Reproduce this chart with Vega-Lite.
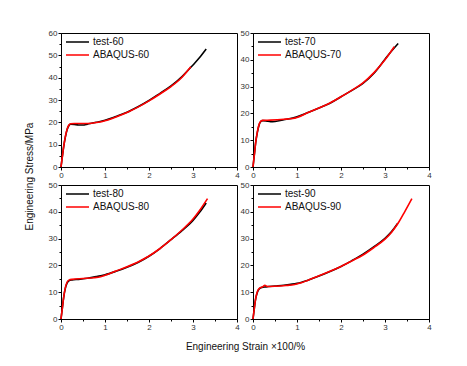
{
  "$schema": "https://vega.github.io/schema/vega-lite/v6.json",
  "background": "white",
  "padding": {"left": 23, "top": 28, "right": 5, "bottom": 5},
  "datasets": {
    "d": [
      {"p":"60","s":"test-60","x":0,"y":0},{"p":"60","s":"test-60","x":0.03,"y":4.5},{"p":"60","s":"test-60","x":0.06,"y":9},{"p":"60","s":"test-60","x":0.1,"y":13.5},{"p":"60","s":"test-60","x":0.14,"y":16.8},{"p":"60","s":"test-60","x":0.18,"y":18.6},{"p":"60","s":"test-60","x":0.22,"y":19.2},{"p":"60","s":"test-60","x":0.3,"y":19.1},{"p":"60","s":"test-60","x":0.4,"y":18.8},{"p":"60","s":"test-60","x":0.5,"y":18.8},{"p":"60","s":"test-60","x":0.6,"y":19.2},{"p":"60","s":"test-60","x":0.8,"y":20},{"p":"60","s":"test-60","x":1.0,"y":20.9},{"p":"60","s":"test-60","x":1.25,"y":22.6},{"p":"60","s":"test-60","x":1.5,"y":24.5},{"p":"60","s":"test-60","x":1.75,"y":27},{"p":"60","s":"test-60","x":2.0,"y":29.8},{"p":"60","s":"test-60","x":2.25,"y":33},{"p":"60","s":"test-60","x":2.5,"y":36.3},{"p":"60","s":"test-60","x":2.75,"y":40.5},{"p":"60","s":"test-60","x":3.0,"y":45.7},{"p":"60","s":"test-60","x":3.15,"y":49},{"p":"60","s":"test-60","x":3.3,"y":52.8},
      {"p":"60","s":"ABAQUS-60","x":0,"y":0},{"p":"60","s":"ABAQUS-60","x":0.03,"y":4.5},{"p":"60","s":"ABAQUS-60","x":0.06,"y":9},{"p":"60","s":"ABAQUS-60","x":0.1,"y":13.7},{"p":"60","s":"ABAQUS-60","x":0.14,"y":17},{"p":"60","s":"ABAQUS-60","x":0.18,"y":18.8},{"p":"60","s":"ABAQUS-60","x":0.22,"y":19.4},{"p":"60","s":"ABAQUS-60","x":0.3,"y":19.5},{"p":"60","s":"ABAQUS-60","x":0.5,"y":19.5},{"p":"60","s":"ABAQUS-60","x":0.7,"y":19.6},{"p":"60","s":"ABAQUS-60","x":0.85,"y":20},{"p":"60","s":"ABAQUS-60","x":1.0,"y":20.7},{"p":"60","s":"ABAQUS-60","x":1.25,"y":22.4},{"p":"60","s":"ABAQUS-60","x":1.5,"y":24.4},{"p":"60","s":"ABAQUS-60","x":1.75,"y":26.8},{"p":"60","s":"ABAQUS-60","x":2.0,"y":29.6},{"p":"60","s":"ABAQUS-60","x":2.25,"y":32.7},{"p":"60","s":"ABAQUS-60","x":2.5,"y":36},{"p":"60","s":"ABAQUS-60","x":2.75,"y":40.2},{"p":"60","s":"ABAQUS-60","x":2.95,"y":44.9},
      {"p":"70","s":"test-70","x":0,"y":0},{"p":"70","s":"test-70","x":0.03,"y":4.5},{"p":"70","s":"test-70","x":0.06,"y":9},{"p":"70","s":"test-70","x":0.1,"y":13},{"p":"70","s":"test-70","x":0.14,"y":15.8},{"p":"70","s":"test-70","x":0.18,"y":17},{"p":"70","s":"test-70","x":0.22,"y":17.3},{"p":"70","s":"test-70","x":0.3,"y":17.2},{"p":"70","s":"test-70","x":0.4,"y":16.9},{"p":"70","s":"test-70","x":0.5,"y":17},{"p":"70","s":"test-70","x":0.7,"y":17.6},{"p":"70","s":"test-70","x":1.0,"y":18.7},{"p":"70","s":"test-70","x":1.25,"y":20.3},{"p":"70","s":"test-70","x":1.5,"y":22},{"p":"70","s":"test-70","x":1.75,"y":23.8},{"p":"70","s":"test-70","x":2.0,"y":26.2},{"p":"70","s":"test-70","x":2.25,"y":28.6},{"p":"70","s":"test-70","x":2.5,"y":31.2},{"p":"70","s":"test-70","x":2.75,"y":35},{"p":"70","s":"test-70","x":3.0,"y":40.2},{"p":"70","s":"test-70","x":3.15,"y":43.3},{"p":"70","s":"test-70","x":3.3,"y":46.1},
      {"p":"70","s":"ABAQUS-70","x":0,"y":0},{"p":"70","s":"ABAQUS-70","x":0.03,"y":4.5},{"p":"70","s":"ABAQUS-70","x":0.06,"y":9},{"p":"70","s":"ABAQUS-70","x":0.1,"y":13.2},{"p":"70","s":"ABAQUS-70","x":0.14,"y":16},{"p":"70","s":"ABAQUS-70","x":0.18,"y":17.1},{"p":"70","s":"ABAQUS-70","x":0.22,"y":17.4},{"p":"70","s":"ABAQUS-70","x":0.4,"y":17.5},{"p":"70","s":"ABAQUS-70","x":0.7,"y":17.8},{"p":"70","s":"ABAQUS-70","x":0.9,"y":18.1},{"p":"70","s":"ABAQUS-70","x":1.0,"y":18.5},{"p":"70","s":"ABAQUS-70","x":1.25,"y":20.3},{"p":"70","s":"ABAQUS-70","x":1.5,"y":22},{"p":"70","s":"ABAQUS-70","x":1.75,"y":23.9},{"p":"70","s":"ABAQUS-70","x":2.0,"y":26.2},{"p":"70","s":"ABAQUS-70","x":2.25,"y":28.7},{"p":"70","s":"ABAQUS-70","x":2.5,"y":31.4},{"p":"70","s":"ABAQUS-70","x":2.75,"y":35.2},{"p":"70","s":"ABAQUS-70","x":3.0,"y":40},{"p":"70","s":"ABAQUS-70","x":3.21,"y":44.9},
      {"p":"80","s":"test-80","x":0,"y":0},{"p":"80","s":"test-80","x":0.03,"y":4},{"p":"80","s":"test-80","x":0.06,"y":8},{"p":"80","s":"test-80","x":0.1,"y":11.5},{"p":"80","s":"test-80","x":0.14,"y":13.5},{"p":"80","s":"test-80","x":0.18,"y":14.3},{"p":"80","s":"test-80","x":0.25,"y":14.6},{"p":"80","s":"test-80","x":0.4,"y":14.8},{"p":"80","s":"test-80","x":0.6,"y":15.2},{"p":"80","s":"test-80","x":0.8,"y":15.8},{"p":"80","s":"test-80","x":1.0,"y":16.5},{"p":"80","s":"test-80","x":1.25,"y":17.8},{"p":"80","s":"test-80","x":1.5,"y":19.3},{"p":"80","s":"test-80","x":1.75,"y":21.1},{"p":"80","s":"test-80","x":2.0,"y":23.4},{"p":"80","s":"test-80","x":2.25,"y":26.3},{"p":"80","s":"test-80","x":2.5,"y":29.6},{"p":"80","s":"test-80","x":2.75,"y":33},{"p":"80","s":"test-80","x":3.0,"y":36.8},{"p":"80","s":"test-80","x":3.15,"y":39.8},{"p":"80","s":"test-80","x":3.3,"y":43.3},
      {"p":"80","s":"ABAQUS-80","x":0,"y":0},{"p":"80","s":"ABAQUS-80","x":0.03,"y":4},{"p":"80","s":"ABAQUS-80","x":0.06,"y":8},{"p":"80","s":"ABAQUS-80","x":0.1,"y":11.8},{"p":"80","s":"ABAQUS-80","x":0.14,"y":13.8},{"p":"80","s":"ABAQUS-80","x":0.18,"y":14.5},{"p":"80","s":"ABAQUS-80","x":0.25,"y":14.8},{"p":"80","s":"ABAQUS-80","x":0.5,"y":15.1},{"p":"80","s":"ABAQUS-80","x":0.75,"y":15.4},{"p":"80","s":"ABAQUS-80","x":0.9,"y":15.8},{"p":"80","s":"ABAQUS-80","x":1.0,"y":16.3},{"p":"80","s":"ABAQUS-80","x":1.25,"y":17.9},{"p":"80","s":"ABAQUS-80","x":1.5,"y":19.5},{"p":"80","s":"ABAQUS-80","x":1.75,"y":21.3},{"p":"80","s":"ABAQUS-80","x":2.0,"y":23.5},{"p":"80","s":"ABAQUS-80","x":2.25,"y":26.3},{"p":"80","s":"ABAQUS-80","x":2.5,"y":29.6},{"p":"80","s":"ABAQUS-80","x":2.75,"y":33.2},{"p":"80","s":"ABAQUS-80","x":3.0,"y":37.3},{"p":"80","s":"ABAQUS-80","x":3.15,"y":40.5},{"p":"80","s":"ABAQUS-80","x":3.33,"y":44.9},
      {"p":"90","s":"test-90","x":0,"y":0},{"p":"90","s":"test-90","x":0.03,"y":4},{"p":"90","s":"test-90","x":0.06,"y":7.5},{"p":"90","s":"test-90","x":0.1,"y":10},{"p":"90","s":"test-90","x":0.14,"y":11.2},{"p":"90","s":"test-90","x":0.2,"y":11.8},{"p":"90","s":"test-90","x":0.3,"y":12},{"p":"90","s":"test-90","x":0.5,"y":12.3},{"p":"90","s":"test-90","x":0.7,"y":12.6},{"p":"90","s":"test-90","x":1.0,"y":13.3},{"p":"90","s":"test-90","x":1.25,"y":14.5},{"p":"90","s":"test-90","x":1.5,"y":16},{"p":"90","s":"test-90","x":1.75,"y":17.7},{"p":"90","s":"test-90","x":2.0,"y":19.6},{"p":"90","s":"test-90","x":2.25,"y":21.8},{"p":"90","s":"test-90","x":2.5,"y":24.2},{"p":"90","s":"test-90","x":2.75,"y":27},{"p":"90","s":"test-90","x":3.0,"y":30.1},{"p":"90","s":"test-90","x":3.15,"y":32.6},{"p":"90","s":"test-90","x":3.29,"y":35.7},
      {"p":"90","s":"ABAQUS-90","x":0,"y":0},{"p":"90","s":"ABAQUS-90","x":0.03,"y":4},{"p":"90","s":"ABAQUS-90","x":0.06,"y":7.5},{"p":"90","s":"ABAQUS-90","x":0.1,"y":10.3},{"p":"90","s":"ABAQUS-90","x":0.15,"y":11.5},{"p":"90","s":"ABAQUS-90","x":0.22,"y":12},{"p":"90","s":"ABAQUS-90","x":0.27,"y":12.6},{"p":"90","s":"ABAQUS-90","x":0.32,"y":12.1},{"p":"90","s":"ABAQUS-90","x":0.5,"y":12.2},{"p":"90","s":"ABAQUS-90","x":0.75,"y":12.5},{"p":"90","s":"ABAQUS-90","x":0.95,"y":12.9},{"p":"90","s":"ABAQUS-90","x":1.1,"y":13.5},{"p":"90","s":"ABAQUS-90","x":1.25,"y":14.5},{"p":"90","s":"ABAQUS-90","x":1.5,"y":16.1},{"p":"90","s":"ABAQUS-90","x":1.75,"y":17.8},{"p":"90","s":"ABAQUS-90","x":2.0,"y":19.6},{"p":"90","s":"ABAQUS-90","x":2.25,"y":21.7},{"p":"90","s":"ABAQUS-90","x":2.5,"y":23.9},{"p":"90","s":"ABAQUS-90","x":2.75,"y":26.7},{"p":"90","s":"ABAQUS-90","x":3.0,"y":29.8},{"p":"90","s":"ABAQUS-90","x":3.15,"y":32.4},{"p":"90","s":"ABAQUS-90","x":3.3,"y":35.8},{"p":"90","s":"ABAQUS-90","x":3.45,"y":40.1},{"p":"90","s":"ABAQUS-90","x":3.61,"y":44.9}
    ]
  },
  "config": {
    "font": "Liberation Sans",
    "view": {"stroke": "#000000", "strokeWidth": 1},
    "axis": {
      "grid": false,
      "domainColor": "#000000",
      "tickColor": "#000000",
      "labelColor": "#333333",
      "labelFontSize": 8,
      "labelFlush": false,
      "labelOverlap": false,
      "labelPadding": 1,
      "titleFontSize": 10,
      "titleFontWeight": "normal",
      "titleColor": "#111111"
    },
    "legend": {
      "orient": "none",
      "legendX": 4,
      "legendY": 3,
      "padding": 0,
      "labelFontSize": 10,
      "labelColor": "#111111",
      "labelLimit": 200,
      "symbolType": "M-1,0H1",
      "symbolSize": 529,
      "symbolStrokeWidth": 2,
      "labelOffset": 3,
      "clipHeight": 12,
      "rowPadding": 1
    },
    "line": {"strokeWidth": 1.6, "interpolate": "monotone"}
  },
  "columns": 2,
  "spacing": {"row": 18, "column": 16},
  "bounds": "flush",
  "resolve": {"scale": {"color": "independent", "x": "independent", "y": "independent"}},
  "concat": [
    {
      "width": 176, "height": 134,
      "data": {"name": "d"},
      "transform": [{"filter": "datum.p === '60'"}],
      "encoding": {
        "x": {"field": "x", "type": "quantitative", "scale": {"domain": [0, 4]},
          "axis": {"title": null, "values": [0,0.5,1,1.5,2,2.5,3,3.5,4], "labelExpr": "datum.value % 1 === 0 ? format(datum.value, 'd') : ''", "tickSize": {"condition": {"test": "datum.value % 1 === 0", "value": 3}, "value": 2}}},
        "y": {"field": "y", "type": "quantitative", "scale": {"domain": [0, 60]},
          "axis": {"title": "Engineering Stress/MPa", "titleX": -32, "titleY": 143, "titleAlign": "center", "titleBaseline": "middle", "titleAngle": 270,
            "values": [0,5,10,15,20,25,30,35,40,45,50,55,60], "labelExpr": "datum.value % 10 === 0 ? datum.label : ''", "tickSize": {"condition": {"test": "datum.value % 10 === 0", "value": 3}, "value": 2}}},
        "color": {"field": "s", "type": "nominal", "scale": {"domain": ["test-60", "ABAQUS-60"], "range": ["#000000", "#ff0000"]}, "legend": {"title": null}}
      },
      "layer": [
        {"transform": [{"filter": "indexof(datum.s, 'test') === 0"}], "mark": {"type": "line"}},
        {"transform": [{"filter": "indexof(datum.s, 'ABAQUS') === 0"}], "mark": {"type": "line"}}
      ]
    },
    {
      "width": 176, "height": 134,
      "data": {"name": "d"},
      "transform": [{"filter": "datum.p === '70'"}],
      "encoding": {
        "x": {"field": "x", "type": "quantitative", "scale": {"domain": [0, 4]},
          "axis": {"title": null, "values": [0,0.5,1,1.5,2,2.5,3,3.5,4], "labelExpr": "datum.value % 1 === 0 ? format(datum.value, 'd') : ''", "tickSize": {"condition": {"test": "datum.value % 1 === 0", "value": 3}, "value": 2}}},
        "y": {"field": "y", "type": "quantitative", "scale": {"domain": [0, 50]},
          "axis": {"title": null, "values": [0,5,10,15,20,25,30,35,40,45,50], "labelExpr": "datum.value % 10 === 0 ? datum.label : ''", "tickSize": {"condition": {"test": "datum.value % 10 === 0", "value": 3}, "value": 2}}},
        "color": {"field": "s", "type": "nominal", "scale": {"domain": ["test-70", "ABAQUS-70"], "range": ["#000000", "#ff0000"]}, "legend": {"title": null}}
      },
      "layer": [
        {"transform": [{"filter": "indexof(datum.s, 'test') === 0"}], "mark": {"type": "line"}},
        {"transform": [{"filter": "indexof(datum.s, 'ABAQUS') === 0"}], "mark": {"type": "line"}}
      ]
    },
    {
      "width": 176, "height": 134,
      "data": {"name": "d"},
      "transform": [{"filter": "datum.p === '80'"}],
      "encoding": {
        "x": {"field": "x", "type": "quantitative", "scale": {"domain": [0, 4]},
          "axis": {"title": "Engineering Strain ×100/%", "titleX": 184, "titleY": 27, "titleAlign": "center", "titleBaseline": "middle",
            "values": [0,0.5,1,1.5,2,2.5,3,3.5,4], "labelExpr": "datum.value % 1 === 0 ? format(datum.value, 'd') : ''", "tickSize": {"condition": {"test": "datum.value % 1 === 0", "value": 3}, "value": 2}}},
        "y": {"field": "y", "type": "quantitative", "scale": {"domain": [0, 50]},
          "axis": {"title": null, "values": [0,5,10,15,20,25,30,35,40,45,50], "labelExpr": "datum.value % 10 === 0 ? datum.label : ''", "tickSize": {"condition": {"test": "datum.value % 10 === 0", "value": 3}, "value": 2}}},
        "color": {"field": "s", "type": "nominal", "scale": {"domain": ["test-80", "ABAQUS-80"], "range": ["#000000", "#ff0000"]}, "legend": {"title": null}}
      },
      "layer": [
        {"transform": [{"filter": "indexof(datum.s, 'test') === 0"}], "mark": {"type": "line"}},
        {"transform": [{"filter": "indexof(datum.s, 'ABAQUS') === 0"}], "mark": {"type": "line"}}
      ]
    },
    {
      "width": 176, "height": 134,
      "data": {"name": "d"},
      "transform": [{"filter": "datum.p === '90'"}],
      "encoding": {
        "x": {"field": "x", "type": "quantitative", "scale": {"domain": [0, 4]},
          "axis": {"title": null, "values": [0,0.5,1,1.5,2,2.5,3,3.5,4], "labelExpr": "datum.value % 1 === 0 ? format(datum.value, 'd') : ''", "tickSize": {"condition": {"test": "datum.value % 1 === 0", "value": 3}, "value": 2}}},
        "y": {"field": "y", "type": "quantitative", "scale": {"domain": [0, 50]},
          "axis": {"title": null, "values": [0,5,10,15,20,25,30,35,40,45,50], "labelExpr": "datum.value % 10 === 0 ? datum.label : ''", "tickSize": {"condition": {"test": "datum.value % 10 === 0", "value": 3}, "value": 2}}},
        "color": {"field": "s", "type": "nominal", "scale": {"domain": ["test-90", "ABAQUS-90"], "range": ["#000000", "#ff0000"]}, "legend": {"title": null}}
      },
      "layer": [
        {"transform": [{"filter": "indexof(datum.s, 'test') === 0"}], "mark": {"type": "line"}},
        {"transform": [{"filter": "indexof(datum.s, 'ABAQUS') === 0"}], "mark": {"type": "line"}}
      ]
    }
  ]
}
